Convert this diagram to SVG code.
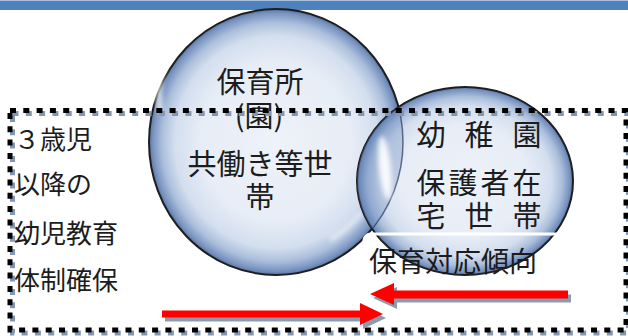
<svg xmlns="http://www.w3.org/2000/svg" width="628" height="336" viewBox="0 0 628 336">
<style>
.t{font-family:"Noto Sans CJK JP","Noto Sans CJK SC",sans-serif;fill:#1c1c1c}
.lt{font-size:26px}
.bt{font-size:29px}
.dash{fill:none;stroke-width:5;stroke-dasharray:6 7.3}
.arrow{fill:#ff0000}
.ashadow{fill:#8c9bb0}
.rim{stroke:#1e1e1e;stroke-width:2}
</style>
<defs>
<radialGradient id="bub" cx="50%" cy="50%" r="50%">
<stop offset="0" stop-color="#eef2f9"/>
<stop offset="0.6" stop-color="#e7edf6"/>
<stop offset="0.8" stop-color="#d3deee"/>
<stop offset="0.9" stop-color="#aabedb"/>
<stop offset="0.97" stop-color="#7893c0"/>
<stop offset="1" stop-color="#56739f"/>
</radialGradient>
<clipPath id="smallClip"><ellipse cx="465" cy="181" rx="108" ry="94"/></clipPath>
<filter id="blur" x="-50%" y="-50%" width="200%" height="200%"><feGaussianBlur stdDeviation="2.5"/></filter>
</defs>

<rect id="bar" x="0" y="0.5" width="628" height="9.5" fill="#4f81bd"/>

<g id="node-hoikusho">
<ellipse cx="276" cy="142" rx="127" ry="133" fill="url(#bub)" class="rim"/>
<path d="M168,55 Q156,80 160,112" fill="none" stroke="#ffffff" stroke-width="5" opacity="0.85" filter="url(#blur)"/>
<path d="M330,240 Q350,228 362,212" fill="none" stroke="#ffffff" stroke-width="5" opacity="0.6" filter="url(#blur)"/>
<text class="t bt" x="260" y="93" text-anchor="middle">保育所</text>
<text class="t bt" x="259" y="127" text-anchor="middle">(園)</text>
<text class="t bt" x="260" y="175" text-anchor="middle">共働き等世</text>
<text class="t bt" x="260" y="208" text-anchor="middle">帯</text>
</g>

<g id="node-youchien">
<ellipse cx="465" cy="181" rx="108" ry="94" fill="url(#bub)" class="rim"/>
<g clip-path="url(#smallClip)">
<ellipse cx="276" cy="142" rx="127" ry="133" fill="#5f80b8" fill-opacity="0.3" stroke="#2a3a58" stroke-width="1.5" stroke-opacity="0.7"/>
<ellipse cx="385" cy="168" rx="6" ry="32" fill="#ffffff" opacity="0.9" filter="url(#blur)" transform="rotate(-6 385 168)"/>
</g>
<text class="t bt" x="416.5 464.5 512.5" y="146">幼稚園</text>
<text class="t bt" x="416.5 448.5 480.5 512.5" y="194">保護者在</text>
<text class="t bt" x="416.5 464.5 512.5" y="227">宅世帯</text>
</g>

<g id="label-trend">
<rect x="364" y="234" width="200" height="60" rx="7" fill="none" stroke="#ffffff" stroke-width="3"/>
<text class="t" style="font-size:28px" x="369" y="272">保育対応傾向</text>
</g>

<g id="left-text">
<text class="t lt" x="14" y="149">３歳児</text>
<text class="t lt" x="14" y="194">以降の</text>
<text class="t lt" x="14" y="243">幼児教育</text>
<text class="t lt" x="14" y="290">体制確保</text>
</g>

<g id="frame">
<rect x="12.5" y="113.5" width="616" height="219.5" class="dash" stroke="#8497b0"/>
<rect x="10" y="110.5" width="616" height="219.5" class="dash" stroke="#000000"/>
</g>

<g id="connectors">
<polygon class="ashadow" transform="translate(3,4)" points="162,310.5 360,310.5 360,303 383,314 360,325 360,317.5 162,317.5"/>
<polygon class="arrow" points="162,310.5 360,310.5 360,303 383,314 360,325 360,317.5 162,317.5"/>
<polygon class="ashadow" transform="translate(3,4)" points="568,290.5 394,290.5 394,283 370,294 394,305 394,298.5 568,298.5"/>
<polygon class="arrow" points="568,290.5 394,290.5 394,283 370,294 394,305 394,298.5 568,298.5"/>
</g>
</svg>
